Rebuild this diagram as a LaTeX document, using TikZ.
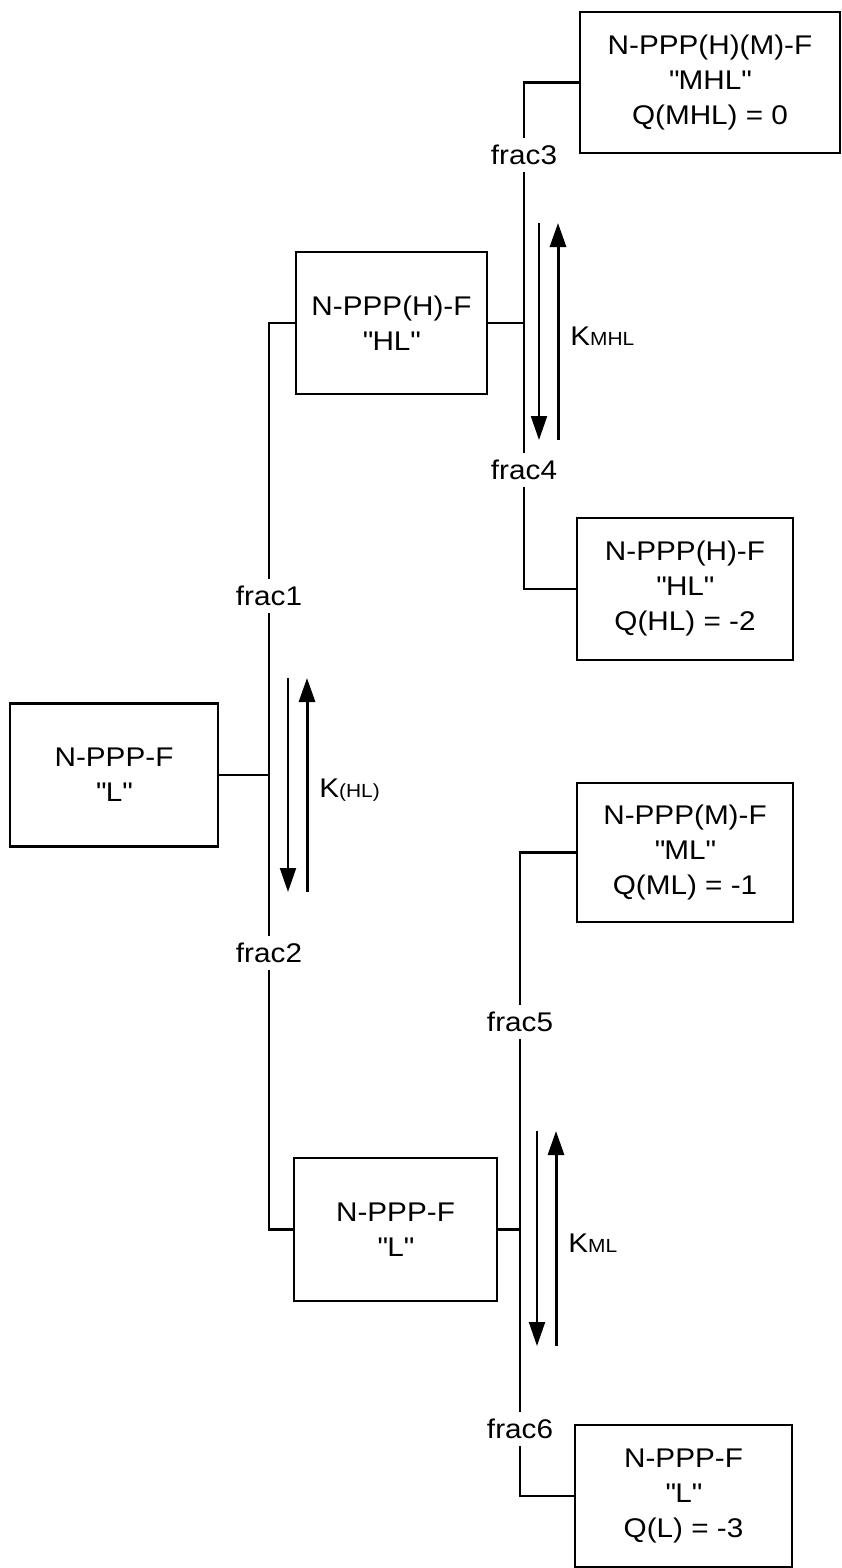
\documentclass[tikz,border=0pt]{standalone}
\usepackage{fontspec}
\setmainfont{Liberation Sans}[FakeStretch=1.1]
\usetikzlibrary{arrows.meta}
\newcommand{\ksub}{\fontsize{9.5}{11}\selectfont}
\newcommand{\qt}[1]{\textquotedbl#1\textquotedbl}
\begin{document}
\begin{tikzpicture}[x = 0.5pt, y = -0.5pt, line width = 1.3pt,
	box/.style = {draw, align = center, inner sep = 0pt, font = \fontsize{13.5}{17.5}\selectfont},
	frac/.style = {inner sep = 3pt, font = \fontsize{13.5}{16}\selectfont}]
	\useasboundingbox (0,0) rectangle (841,1568);
	% boxes
	\node [box, minimum width = 104pt, minimum height = 71.5pt] (L0) at (114,775) {N-PPP-F\\\qt{L}};
	\node [box, minimum width = 95.5pt, minimum height = 71pt] (HL1) at (391.5,323) {N-PPP(H)-F\\\qt{HL}};
	\node [box, minimum width = 101.5pt, minimum height = 71.5pt] (L1) at (395.5,1229.5) {N-PPP-F\\\qt{L}};
	\node [box, minimum width = 130pt, minimum height = 70.5pt] (MHL) at (710,82.5) {N-PPP(H)(M)-F\\\qt{MHL}\\Q(MHL) = 0};
	\node [box, minimum width = 108pt, minimum height = 71pt] (HL2) at (685,589) {N-PPP(H)-F\\\qt{HL}\\Q(HL) = -2};
	\node [box, minimum width = 108pt, minimum height = 69.5pt] (ML) at (685,852.5) {N-PPP(M)-F\\\qt{ML}\\Q(ML) = -1};
	\node [box, minimum width = 108.5pt, minimum height = 71pt] (L3) at (683.5,1496) {N-PPP-F\\\qt{L}\\Q(L) = -3};
	% fractions
	\node [frac] (f1) at (269,596) {frac1};
	\node [frac] (f2) at (269,953) {frac2};
	\node [frac] (f3) at (524,155) {frac3};
	\node [frac] (f4) at (524,470) {frac4};
	\node [frac] (f5) at (520,1022) {frac5};
	\node [frac] (f6) at (520,1429) {frac6};
	% spines
	\draw (HL1.west) -| (f1.north);
	\draw (f1.south) -- (f2.north);
	\draw (f2.south) |- (L1.west);
	\draw (L0.east) -- (L0.east -| f1);
	\draw (MHL.west) -| (f3.north);
	\draw (f3.south) -- (f4.north);
	\draw (f4.south) |- (HL2.west);
	\draw (HL1.east) -- (HL1.east -| f3);
	\draw (ML.west) -| (f5.north);
	\draw (f5.south) -- (f6.north);
	\draw (f6.south) |- (L3.west);
	\draw (L1.east) -- (L1.east -| f5);
	% equilibria
	\foreach \n/\x/\ya/\yb/\lab in {hl/288/678/892/{K{\ksub(HL)}}, mhl/539/223/440/{K{\ksub MHL}}, ml/537/1131/1346/{K{\ksub ML}}}{
	\coordinate (\n a) at (\x,\ya);
	\coordinate (\n b) at (\x,\yb);
	\coordinate (\n c) at ({\x+19},\ya);
	\coordinate (\n d) at ({\x+19},\yb);
	\draw [line width = 1pt, -{Triangle[length = 12pt, width = 8pt]}] (\n a) -- (\n b);
	\draw [line width = 1.5pt, -{Triangle[length = 12pt, width = 8pt]}] (\n d) -- (\n c);
	\node [anchor = west, inner sep = 0pt, font = \fontsize{13.5}{16}\selectfont] (\n k) at ({\x+30},{(\ya+\yb)/2+5}) {\lab};
	}
\end{tikzpicture}
\end{document}
